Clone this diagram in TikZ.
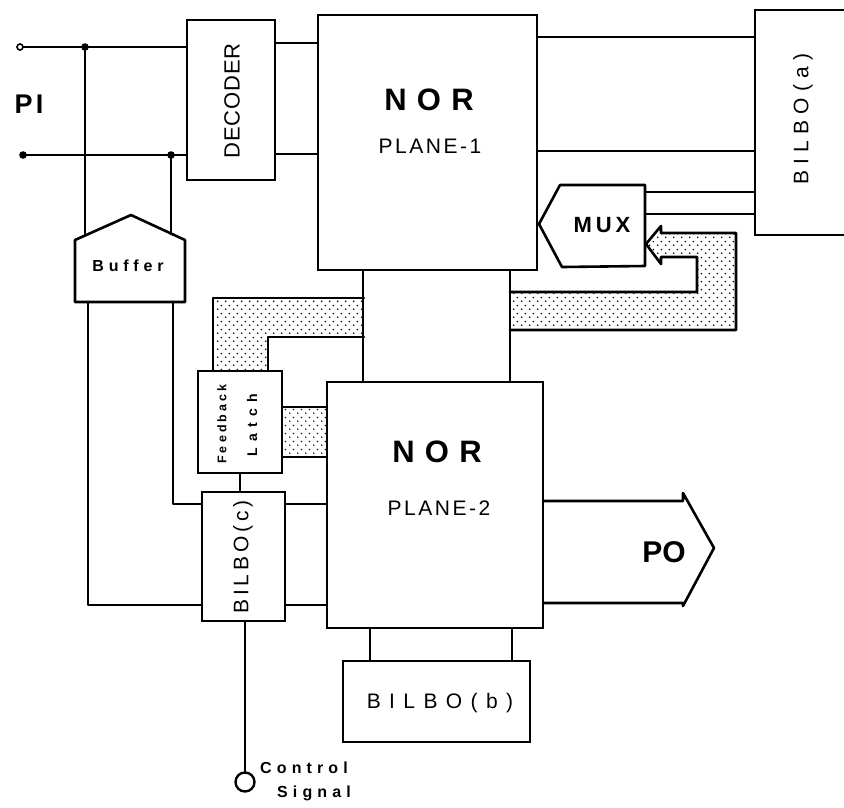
\documentclass[tikz,border=0pt]{standalone}
\usepackage{fontspec}
\setmainfont{Liberation Sans}
\usetikzlibrary{patterns.meta}
\tikzdeclarepattern{
  name=stipple,
  type=uncolored,
  bounding box={(0pt,0pt) and (8pt,8pt)},
  tile size={(8pt,8pt)},
  code={
    \fill (2pt,2pt) circle (0.95pt);
    \fill (6pt,6pt) circle (0.95pt);
  }
}
\newcommand\lsp[2]{{\addfontfeature{LetterSpace=#1}#2}}
\newcommand\fs[1]{\fontsize{#1}{#1}\selectfont}
\begin{document}
\begin{tikzpicture}[x=1pt,y=-1pt,
  wire/.style={line width=2.6pt, line cap=round, line join=round},
  blk/.style={draw, line width=2.6pt, fill=white, inner sep=0pt},
  lbl/.style={inner sep=0pt},
  bus/.style={pattern=stipple, pattern color=black}]
\useasboundingbox (0,0) rectangle (844,807);
\clip (0,0) rectangle (844,807);

% ---- shaded buses (drawn first) ----
\fill[bus] (364,298) -- (213,298) -- (213,371) -- (268,371) -- (268,337) -- (364,337) -- cycle;
\fill[bus] (510,292) -- (697,292) -- (697,257) -- (661,257) -- (661,264) -- (646,244)
   -- (661,226) -- (661,233) -- (736,233) -- (736,330) -- (510,330) -- cycle;
\fill[bus] (282,407) rectangle (327,457);

% ---- blocks ----
\node[blk, minimum width=88pt, minimum height=160pt] (dec) at (231,100) {};
\node[blk, minimum width=219pt, minimum height=255pt] (nor1) at (427.5,142.5) {};
\node[blk, minimum width=100pt, minimum height=225pt] (bilboa) at (805,122.5) {};
\node[blk, minimum width=84pt, minimum height=102pt] (latch) at (240,422) {};
\node[blk, minimum width=83pt, minimum height=129pt] (bilboc) at (243.5,556.5) {};
\node[blk, minimum width=216pt, minimum height=246pt] (nor2) at (435,505) {};
\node[blk, minimum width=187pt, minimum height=81pt] (bilbob) at (436.5,701.5) {};

% buffer (pentagon)
\coordinate (bufL) at (75,240);
\coordinate (bufT) at (131,215);
\coordinate (bufR) at (185,240);
\draw[wire, fill=white] (bufL) -- (bufT) -- (bufR) -- (185,302) -- (75,302) -- cycle;
% MUX (pointing left)
\coordinate (muxtip) at (539,224);
\draw[wire, fill=white] (muxtip) -- (560,185) -- (645,185) -- (645,266) -- (562,267) -- cycle;

% ---- texts ----
\node[lbl, font=\fs{27}\bfseries] (pi) at (29,104) {\lsp{12}{PI}};
\node[lbl, font=\fs{22}, rotate=90] (dect) at (232,101) {\lsp{4}{DECODER}};
\node[lbl, font=\fs{31}\bfseries] (nor1a) at (429,100) {\lsp{33}{NOR}};
\node[lbl, font=\fs{21}] (nor1b) at (430,146) {\lsp{12}{PLANE-1}};
\node[lbl, font=\fs{21}, rotate=90] (bat) at (803,119) {\lsp{30}{BILBO(a)}};
\node[lbl, font=\fs{22}\bfseries] (muxt) at (602,225) {\lsp{18}{MUX}};
\node[lbl, font=\fs{16}\bfseries] (buft) at (128,266) {\lsp{30}{Buffer}};
\node[lbl, font=\fs{12.5}\bfseries, rotate=90] (fbt) at (222,424) {\lsp{25}{Feedback}};
\node[lbl, font=\fs{14}\bfseries, rotate=90] (lat) at (252,425) {\lsp{45}{Latch}};
\node[lbl, font=\fs{31}\bfseries] (nor2a) at (437,452) {\lsp{33}{NOR}};
\node[lbl, font=\fs{21}] (nor2b) at (439,508) {\lsp{12}{PLANE-2}};
\node[lbl, font=\fs{21}, rotate=90] (bct) at (243,557) {\lsp{18}{BILBO(c)}};
\node[lbl, font=\fs{30}\bfseries] (pot) at (664,552) {PO};
\node[lbl, font=\fs{21}] (bbt) at (440,703) {\lsp{40}{BILBO(b)}};
\node[lbl, font=\fs{16}\bfseries, anchor=west] (ctl) at (260,768) {\lsp{32}{Control}};
\node[lbl, font=\fs{16}\bfseries, anchor=west] (sig) at (277,793) {\lsp{32}{Signal}};

% ---- connectors ----
\coordinate (pi1) at (20,47);
\coordinate (pi2) at (23,155);
\coordinate (j1) at (85,47);
\coordinate (j2) at (171,155);
\draw[wire] (pi1) -- (dec.west |- pi1);
\draw[wire] (pi2) -- (dec.west |- pi2);
\draw[wire] (j1) -- (85,235.5);
\draw[wire] (j2) -- (171,234);
\draw[line width=1.6pt, fill=white] (pi1) circle (3pt);
\fill (pi2) circle (3.8pt);
\fill (j1) circle (3.8pt);
\fill (j2) circle (3.8pt);

\draw[wire] (88,302) -- (88,605) -- (bilboc.west |- 0,605);
\draw[wire] (173,302) -- (173,504) -- (bilboc.west |- 0,504);

\draw[wire] (dec.east |- 0,43) -- (nor1.west |- 0,43);
\draw[wire] (dec.east |- 0,154) -- (nor1.west |- 0,154);
\draw[wire] (nor1.east |- 0,37) -- (bilboa.west |- 0,37);
\draw[wire] (nor1.east |- 0,151) -- (bilboa.west |- 0,151);
\draw[wire] (645,192) -- (bilboa.west |- 0,192);
\draw[wire] (645,214) -- (bilboa.west |- 0,214);

\draw[wire] (nor1.south -| 363,0) -- (nor2.north -| 363,0);
\draw[wire] (nor1.south -| 510,0) -- (nor2.north -| 510,0);

\draw[wire] (latch.south) -- (bilboc.north -| latch.south);
\draw[wire] (bilboc.east |- 0,504) -- (nor2.west |- 0,504);
\draw[wire] (bilboc.east |- 0,605) -- (nor2.west |- 0,605);

\node[draw, circle, line width=2.4pt, minimum size=19pt, inner sep=0pt] (ctrl) at (245,782) {};
\draw[wire] (bilboc.south -| ctrl.north) -- (ctrl.north);

\draw[wire] (nor2.south -| 370,0) -- (bilbob.north -| 370,0);
\draw[wire] (nor2.south -| 512,0) -- (bilbob.north -| 512,0);

% PO arrow
\draw[wire] (nor2.east |- 0,501) -- (683,501) -- (683,493) -- (714,548) -- (683,606) -- (683,603) -- (nor2.east |- 0,603);

% bus outlines
\draw[wire] (364,298) -- (213,298) -- (latch.north -| 213,0);
\draw[wire] (latch.north -| 268,0) -- (268,337) -- (364,337);
\draw[wire] (510,292) -- (697,292) -- (697,257) -- (661,257) -- (661,264) -- (646,244)
   -- (661,226) -- (661,233) -- (736,233) -- (736,330) -- (510,330);
\draw[wire] (latch.east |- 0,407) -- (nor2.west |- 0,407);
\draw[wire] (latch.east |- 0,457) -- (nor2.west |- 0,457);
\end{tikzpicture}
\end{document}
